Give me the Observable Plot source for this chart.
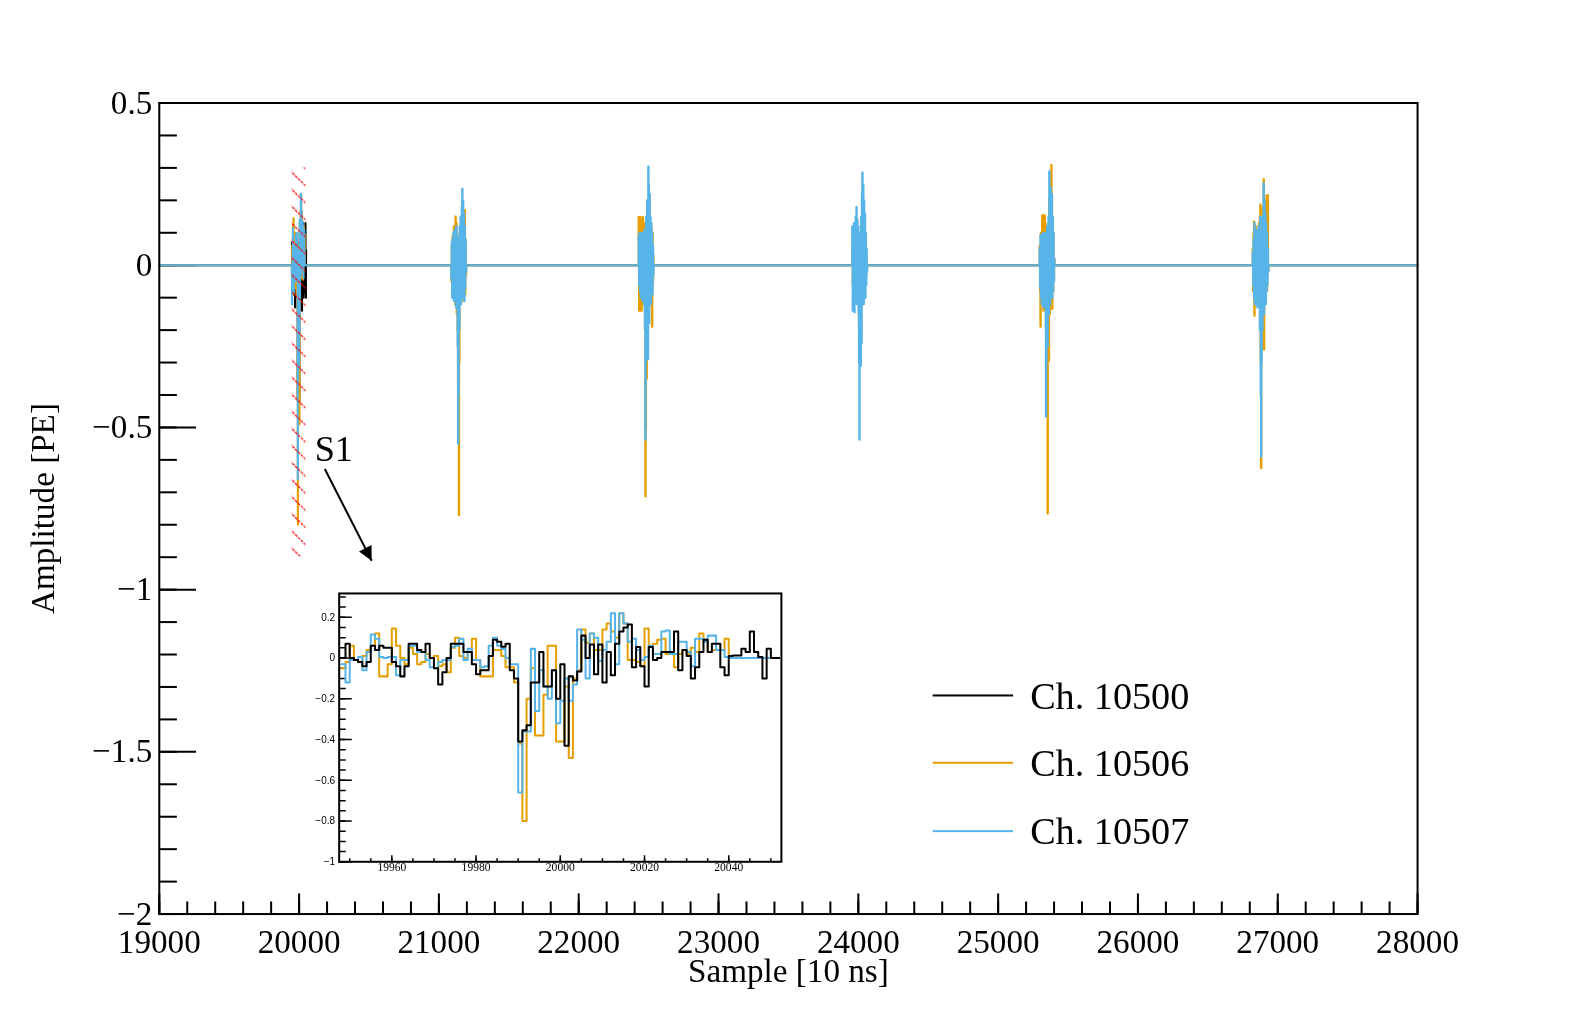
<!DOCTYPE html>
<html>
<head>
<meta charset="utf-8">
<script src="https://cdn.jsdelivr.net/npm/d3@7"></script>
<script src="https://cdn.jsdelivr.net/npm/@observablehq/plot@0.6"></script>
<style>
  html, body { margin: 0; padding: 0; background: white; overflow: hidden; }
  #chart { position: fixed; left: 0; top: 0; width: 1576px; height: 1015px; overflow: hidden; transform-origin: 0 0; transform: scale(1.005); font-family: "Liberation Serif", "Times New Roman", serif; }
  #chart svg { max-width: none; }
  #inset { position: absolute; left: 297px; top: 580px; }
  .legend-row { position: absolute; left: 928px; height: 50px; display: flex; align-items: center; font-size: 38px; white-space: nowrap; }
  .legend-row .swatch { width: 80px; height: 2px; margin-right: 17px; }
</style>
</head>
<body>
<svg width="0" height="0" style="position:fixed; left:0; top:0">
  <defs>
    <pattern id="s1hatch" patternUnits="userSpaceOnUse" width="17" height="17">
      <path d="M-1,-1 L18,18 M-1,16 L1,18 M16,-1 L18,1" stroke="red" stroke-width="1.2" stroke-dasharray="3 1" fill="none"/>
    </pattern>
    <marker id="s1arrow" viewBox="0 0 10 10" refX="10" refY="5" markerWidth="8" markerHeight="7" orient="auto" markerUnits="strokeWidth">
      <path d="M0,0 L10,5 L0,10 z" fill="black"/>
    </marker>
  </defs>
</svg>
<div id="chart"><div id="inset"></div></div>
<script>
/* global d3, Plot */

// channels
const channels = ['Ch. 10500', 'Ch. 10506', 'Ch. 10507'];
const colors = ['black', '#e69f00', '#56b4e9'];

// main axes
const xDomain = [19000, 28000];
const yDomain = [-2, 0.5];
const xMajor = [19000, 20000, 21000, 22000, 23000, 24000, 25000, 26000, 27000, 28000];
const yMajor = [0.5, 0, -0.5, -1, -1.5, -2];

// S1 window, one value per sample starting at s1Start
const s1Start = 19948;
const s1Black = [
  0.00, 0.07, 0.00, -0.01, -0.02, -0.04, -0.02, 0.06, 0.04, 0.06,
  0.05, 0.05, -0.02, -0.04, -0.09, -0.04, 0.07, 0.07, 0.04, 0.03,
  0.07, 0.00, -0.05, -0.13, -0.07, 0.00, 0.07, 0.07, 0.07, 0.03,
  0.03, -0.03, -0.08, -0.06, -0.06, 0.01, 0.09, 0.08, 0.055, 0.07,
  -0.06, -0.10, -0.41, -0.355, -0.33, -0.12, -0.12, 0.03, -0.14, -0.14,
  -0.06, -0.20, -0.03, -0.43, -0.09, -0.11, -0.066, 0.11, 0.00, 0.066,
  -0.08, 0.066, -0.12, 0.03, -0.085, 0.07, 0.13, 0.15, 0.165, -0.045,
  0.054, -0.04, -0.14, 0.054, -0.01, 0.00, 0.03, 0.03, 0.03, 0.13,
  -0.06, 0.04, 0.01, -0.10, -0.045, 0.03, 0.09, 0.03, 0.07, 0.07,
  -0.045, -0.085, 0.01, 0.013, 0.013, 0.046, 0.03, 0.13, 0.03, 0.005,
  -0.10, 0.046, 0.00, 0.00
];
const s1Orange = [
  -0.05, -0.02, 0.06, -0.01, -0.02, 0.01, 0.04, 0.06, 0.12, -0.09,
  -0.09, -0.03, 0.145, 0.06, 0.00, -0.03, 0.05, 0.02, -0.03, -0.02,
  0.02, 0.00, 0.01, -0.04, -0.03, -0.07, 0.05, 0.10, 0.01, 0.00,
  0.03, 0.095, -0.01, -0.09, -0.09, -0.09, 0.04, 0.04, 0.01, -0.045,
  -0.045, -0.12, -0.42, -0.80, -0.20, -0.05, -0.38, -0.38, -0.18, 0.06,
  0.06, -0.41, -0.41, -0.14, -0.49, -0.10, -0.06, 0.14, 0.075, 0.12,
  0.04, 0.04, 0.14, 0.17, 0.13, 0.10, 0.22, 0.17, -0.01, -0.01,
  -0.02, -0.04, 0.145, 0.06, 0.07, 0.09, 0.095, 0.02, 0.02, -0.045,
  0.02, 0.04, 0.02, 0.05, 0.03, 0.12, 0.09, 0.03, 0.04, 0.04,
  0.04, 0.095, 0, 0, 0, 0, 0, 0, 0, 0,
  0, 0, 0, 0
];
const s1Blue = [
  -0.03, -0.12, -0.01, -0.01, 0.005, -0.06, 0.03, 0.115, 0.095, 0.005,
  0.00, 0.005, 0.005, -0.085, -0.01, -0.01, 0.06, 0.06, 0.03, 0.03,
  -0.01, -0.045, -0.05, -0.02, -0.01, -0.01, 0.055, 0.06, 0.095, -0.01,
  0.045, -0.01, -0.01, -0.045, -0.04, 0.06, 0.10, 0.06, 0.045, 0.00,
  -0.03, -0.03, -0.66, -0.36, -0.36, 0.045, -0.26, -0.06, -0.14, -0.20,
  -0.06, -0.32, -0.21, -0.10, -0.21, -0.13, 0.14, 0.09, -0.10, 0.12,
  0.10, -0.015, 0.04, 0.08, 0.22, -0.03, 0.22, 0.17, 0.08, 0.095,
  0.04, -0.01, 0.005, 0.06, 0.02, 0.02, 0.13, 0.135, 0.02, 0.02,
  0.08, 0.08, 0.03, -0.04, 0.095, 0.095, 0.08, 0.11, 0.11, 0.04,
  0.04, 0.005, 0, 0, 0, 0, 0, 0, 0, 0,
  0, 0, 0, 0
];

// later pulses: first sample of each, one value every burstStep samples
const burstStarts = [21088, 22428, 23956, 25296, 26820];
const burstStep = 3;
const burstOrange = [
  [-0.05, 0.06, -0.08, 0.09, -0.1, 0.04, 0.12, -0.07, 0.1, -0.12, 0.15, -0.09, 0.13, -0.15, 0.08, -0.2, -0.35, 0.05, -0.77, -0.3, 0.1, -0.12, 0.07, -0.08, 0.11, -0.1, 0.14, -0.05, 0.09, -0.11, 0.12, -0.06, 0.17, -0.09, 0.06, -0.03],
  [0.149, -0.14, 0.05, -0.14, 0.149, -0.1, 0.08, -0.14, 0.12, -0.08, 0.149, -0.12, 0.1, -0.09, 0.13, -0.2, -0.713, -0.507, 0.1, -0.35, 0.149, -0.1, 0.12, -0.15, 0.14, -0.08, 0.11, -0.12, 0.09, -0.1, 0.12, -0.06, -0.19, 0.1, -0.05, 0.03],
  [0.05, -0.06, 0.04, -0.05, 0.06, -0.07, 0.05, -0.04, 0.07, -0.05, 0.08, -0.06, 0.05, -0.07, 0.06, -0.1, -0.2, -0.3, 0.05, -0.12, -0.15, 0.08, -0.1, 0.1, 0.12, -0.06, 0.1, -0.07, 0.09, -0.05, 0.07, -0.06, 0.05, -0.03, 0.02, -0.01],
  [0.06, -0.08, -0.19, 0.1, -0.12, 0.08, 0.154, -0.1, 0.154, -0.14, 0.12, -0.09, 0.154, -0.11, 0.13, -0.2, -0.4, -0.3, 0.1, -0.765, -0.2, 0.12, -0.295, 0.2, -0.15, 0.25, 0.18, -0.1, 0.309, 0.22, -0.135, 0.15, -0.08, 0.1, -0.04, 0.02],
  [0.05, -0.08, 0.1, 0.135, -0.156, 0.08, -0.1, 0.12, -0.09, 0.1, -0.12, 0.09, -0.08, 0.11, -0.1, 0.13, -0.12, 0.15, 0.187, -0.3, -0.626, -0.2, 0.12, -0.15, 0.18, -0.1, 0.265, -0.26, 0.2, -0.12, 0.15, -0.1, 0.12, 0.216, -0.08, 0.1, 0.216, -0.02]
];
const burstBlue = [
  [-0.04, 0.07, -0.1, 0.08, -0.06, 0.1, -0.11, 0.09, 0.11, -0.1, 0.1, -0.13, 0.12, -0.1, 0.09, -0.25, -0.55, -0.4, 0.06, -0.2, 0.12, -0.09, 0.15, -0.12, 0.13, 0.18, 0.236, -0.1, 0.2, -0.08, 0.16, -0.11, 0.12, -0.07, 0.08, -0.02],
  [0.09, -0.06, 0.1, -0.08, 0.08, -0.1, 0.1, -0.07, 0.09, -0.11, 0.07, -0.09, 0.1, -0.12, 0.11, -0.2, -0.538, -0.3, 0.15, -0.12, 0.2, -0.1, -0.29, 0.304, 0.25, -0.18, 0.22, -0.1, 0.15, -0.12, 0.13, -0.08, 0.1, -0.09, 0.06, -0.03],
  [0.12, -0.14, 0.1, -0.12, 0.13, -0.145, 0.11, -0.1, 0.15, -0.08, 0.18, -0.12, 0.14, -0.1, 0.12, -0.15, -0.3, -0.538, 0.1, -0.2, -0.31, 0.15, -0.24, 0.22, 0.286, -0.1, 0.25, -0.12, 0.2, -0.08, 0.16, -0.1, 0.1, -0.06, 0.05, -0.02],
  [0.05, -0.07, 0.094, -0.1, 0.08, -0.12, 0.09, -0.11, 0.1, -0.13, 0.09, -0.1, 0.08, -0.12, 0.1, -0.466, -0.3, -0.2, 0.12, -0.25, -0.1, 0.15, -0.15, 0.29, 0.2, -0.12, 0.24, -0.1, 0.18, 0.22, -0.1, 0.15, -0.08, 0.1, -0.05, 0.02],
  [0.04, -0.06, 0.08, -0.1, 0.13, -0.12, 0.09, -0.1, 0.11, -0.08, 0.1, -0.13, 0.09, -0.1, 0.12, -0.11, 0.1, -0.2, 0.15, -0.4, -0.59, -0.3, 0.1, -0.2, 0.15, -0.12, 0.253, -0.15, 0.2, -0.1, 0.16, -0.12, 0.13, -0.08, 0.1, -0.06, 0.05, -0.02]
];

// annotations (data units)
const s1Window = [19950, 20050];
const s1Band = [-0.9, 0.3];
const s1LabelAt = { x: 20112, y: -0.604, text: 'S1' };
const s1Arrow = { x1: 20184, y1: -0.628, x2: 20519, y2: -0.911 };

// inset axes
const inXDomain = [19947.5, 20052.5];
const inYDomain = [-1, 0.317];
const inXTicks = [19960, 19980, 20000, 20020, 20040];
const inYTicks = [0.2, 0, -0.2, -0.4, -0.6, -0.8, -1];

const fmt = d => (d < 0 ? '\u2212' + Math.abs(d) : String(d));

// baseline 0 with the pulses put in as step segments
function waveform (segments) {
  const pts = [{ x: xDomain[0], y: 0 }];
  for (const { start, step, values } of segments) {
    values.forEach((v, i) => pts.push({ x: start + i * step, y: v }));
    pts.push({ x: start + values.length * step, y: 0 });
  }
  pts.push({ x: xDomain[1], y: 0 });
  return pts;
}
const bursts = arrs => burstStarts.map((s, i) => ({ start: s, step: burstStep, values: arrs[i] }));

const mainBlack = waveform([{ start: s1Start, step: 1, values: s1Black }]);
const mainOrange = waveform([{ start: s1Start, step: 1, values: s1Orange }, ...bursts(burstOrange)]);
const mainBlue = waveform([{ start: s1Start, step: 1, values: s1Blue }, ...bursts(burstBlue)]);

const W = 1576, H = 1015, mL = 158, mR = 166, mT = 102, mB = 106;
const frameW = W - mL - mR, frameH = H - mT - mB;

const main = Plot.plot({
  width: W,
  height: H,
  marginLeft: mL,
  marginRight: mR,
  marginTop: mT,
  marginBottom: mB,
  style: { fontFamily: '"Liberation Serif", "Times New Roman", serif', background: 'transparent', color: 'black', maxWidth: 'none' },
  x: { domain: xDomain, axis: null },
  y: { domain: yDomain, axis: null },
  marks: [
    // inward ticks (under the traces)
    Plot.tickX(d3.range(19000, 28001, 200), { insetTop: frameH - 12, stroke: 'black', strokeWidth: 2 }),
    Plot.tickX(xMajor, { insetTop: frameH - 20, stroke: 'black', strokeWidth: 2 }),
    Plot.tickY(d3.range(-20, 6).map(i => i / 10), { insetRight: frameW - 18, stroke: 'black', strokeWidth: 2 }),
    Plot.tickY(yMajor, { insetRight: frameW - 37, stroke: 'black', strokeWidth: 2 }),
    Plot.line(mainBlack, { x: 'x', y: 'y', curve: 'step-after', stroke: colors[0], strokeWidth: 2 }),
    Plot.line(mainOrange, { x: 'x', y: 'y', curve: 'step-after', stroke: colors[1], strokeWidth: 2 }),
    Plot.line(mainBlue, { x: 'x', y: 'y', curve: 'step-after', stroke: colors[2], strokeWidth: 2 }),
    Plot.rect([0], { x1: () => s1Window[0], x2: () => s1Window[1], y1: () => s1Band[0], y2: () => s1Band[1], fill: 'url(#s1hatch)' }),
    Plot.frame({ stroke: 'black', strokeWidth: 2 }),
    // tick labels and titles
    Plot.text(xMajor, { x: d => d, text: fmt, frameAnchor: 'bottom', lineAnchor: 'top', dy: 15, fontSize: 33 }),
    Plot.text(yMajor, { y: d => d, text: fmt, frameAnchor: 'left', textAnchor: 'end', lineAnchor: 'middle', dx: -7, fontSize: 33 }),
    Plot.text(['Sample [10 ns]'], { text: d => d, frameAnchor: 'bottom', lineAnchor: 'middle', textAnchor: 'middle', dy: 57, fontSize: 33 }),
    Plot.text(['Amplitude [PE]'], { text: d => d, frameAnchor: 'left', lineAnchor: 'middle', textAnchor: 'middle', dx: -115, rotate: -90, fontSize: 33 }),
    // S1 annotation
    Plot.text([s1LabelAt], { x: 'x', y: 'y', text: 'text', textAnchor: 'start', lineAnchor: 'bottom', fontSize: 36 }),
    Plot.link([s1Arrow], { x1: 'x1', y1: 'y1', x2: 'x2', y2: 'y2', stroke: 'black', strokeWidth: 2 })
  ]
});
main.querySelectorAll('g[aria-label="link"] path').forEach(p => p.setAttribute('marker-end', 'url(#s1arrow)'));
main.style.position = 'absolute';
main.style.left = '0px';
main.style.top = '0px';
const chart = document.getElementById('chart');
chart.insertBefore(main, chart.firstChild);

// inset: zoom on S1
const pts = vals => vals.map((v, i) => ({ x: s1Start + i, y: v })).concat([{ x: s1Start + vals.length, y: vals[vals.length - 1] }]);
const iW = 485, iH = 302, iL = 40, iR = 5, iT = 10, iB = 25;
const iFW = iW - iL - iR, iFH = iH - iT - iB;
const inset = Plot.plot({
  width: iW,
  height: iH,
  marginLeft: iL,
  marginRight: iR,
  marginTop: iT,
  marginBottom: iB,
  style: { fontFamily: '"Liberation Serif", "Times New Roman", serif', background: 'transparent', color: 'black', maxWidth: 'none' },
  x: { domain: inXDomain, axis: null },
  y: { domain: inYDomain, axis: null },
  marks: [
    Plot.frame({ fill: 'white' }),
    Plot.tickX(d3.range(19950, 20051, 5), { insetTop: iFH - 3, stroke: 'black', strokeWidth: 1.5 }),
    Plot.tickX(inXTicks, { insetTop: iFH - 6, stroke: 'black', strokeWidth: 1.5 }),
    Plot.tickY(d3.range(-20, 7).map(i => i * 0.05), { insetRight: iFW - 7, stroke: 'black', strokeWidth: 1.5 }),
    Plot.tickY(inYTicks, { insetRight: iFW - 13, stroke: 'black', strokeWidth: 1.5 }),
    Plot.line(pts(s1Orange), { x: 'x', y: 'y', curve: 'step-after', stroke: colors[1], strokeWidth: 2, clip: true }),
    Plot.line(pts(s1Blue), { x: 'x', y: 'y', curve: 'step-after', stroke: colors[2], strokeWidth: 2, clip: true }),
    Plot.line(pts(s1Black), { x: 'x', y: 'y', curve: 'step-after', stroke: colors[0], strokeWidth: 2, clip: true }),
    Plot.frame({ stroke: 'black', strokeWidth: 2 }),
    Plot.text(inXTicks, { x: d => d, text: String, frameAnchor: 'bottom', lineAnchor: 'top', dy: 1, fontSize: 11.5 }),
    Plot.text(inYTicks, { y: d => d, text: fmt, frameAnchor: 'left', textAnchor: 'end', lineAnchor: 'middle', dx: -4, fontSize: 10, fontFamily: '"Liberation Sans", Arial, sans-serif' })
  ]
});
document.getElementById('inset').append(inset);

// legend
const legendY = [692, 759, 827];
channels.forEach((name, i) => {
  const row = document.createElement('div');
  row.className = 'legend-row';
  row.style.top = (legendY[i] - 25) + 'px';
  const sw = document.createElement('div');
  sw.className = 'swatch';
  sw.style.background = colors[i];
  const label = document.createElement('span');
  label.textContent = name;
  row.append(sw, label);
  chart.append(row);
});
</script>
</body>
</html>
